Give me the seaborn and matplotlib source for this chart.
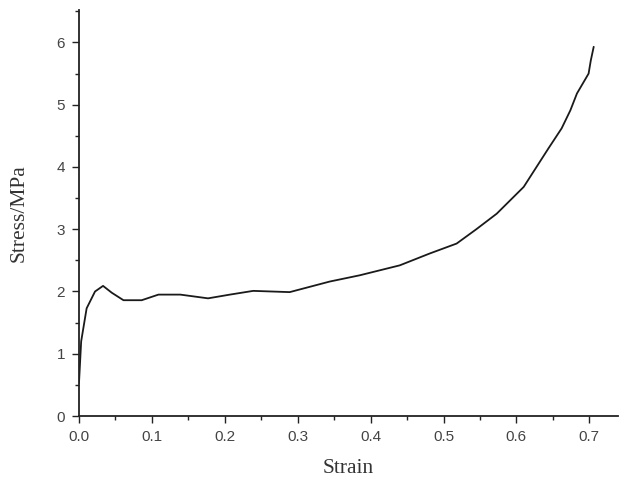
import matplotlib
matplotlib.use("Agg")
import matplotlib.pyplot as plt
from matplotlib.ticker import MultipleLocator
import seaborn as sns
import pandas as pd

strain = [0.0, 0.003, 0.0105, 0.022, 0.033, 0.045, 0.061, 0.086, 0.109, 0.139,
          0.177, 0.207, 0.239, 0.289, 0.344, 0.385, 0.44, 0.481, 0.518, 0.545,
          0.573, 0.61, 0.644, 0.662, 0.674, 0.683, 0.699, 0.702, 0.706]
stress = [0.53, 1.2, 1.73, 2.0, 2.09, 1.98, 1.86, 1.86, 1.95, 1.95,
          1.89, 1.95, 2.01, 1.99, 2.16, 2.26, 2.42, 2.61, 2.77, 3.0,
          3.25, 3.68, 4.3, 4.62, 4.91, 5.18, 5.5, 5.71, 5.93]

df = pd.DataFrame({"Strain": strain, "Stress": stress})

sns.set_style("ticks")
fig = plt.figure(figsize=(6.19, 4.8), dpi=100)
ax = fig.add_axes([0.1276, 0.1333, 0.8704, 0.8457])

sns.lineplot(data=df, x="Strain", y="Stress", ax=ax, color="#1a1a1a",
             linewidth=1.3, sort=False)

ax.set_xlim(0, 0.739)
ax.set_ylim(0, 6.52)
ax.xaxis.set_major_locator(MultipleLocator(0.1))
ax.xaxis.set_minor_locator(MultipleLocator(0.05))
ax.yaxis.set_major_locator(MultipleLocator(1))
ax.yaxis.set_minor_locator(MultipleLocator(0.5))
ax.set_xticks([0, 0.1, 0.2, 0.3, 0.4, 0.5, 0.6, 0.7])
ax.set_xticklabels(["0.0", "0.1", "0.2", "0.3", "0.4", "0.5", "0.6", "0.7"])

ax.tick_params(which="major", direction="out", length=5, width=1, pad=5,
               labelsize=11, labelcolor="#444444", color="#222222")
ax.tick_params(which="minor", direction="out", length=3, width=1, color="#222222")
for lab in ax.get_xticklabels() + ax.get_yticklabels():
    lab.set_family("Liberation Sans")

sns.despine(ax=ax)
for s in ["left", "bottom"]:
    ax.spines[s].set_linewidth(1.3)
    ax.spines[s].set_color("#222222")

ax.set_xlabel("Strain", fontsize=15.5, family="Liberation Serif", color="#333333", labelpad=11)
ax.set_ylabel("Stress/MPa", fontsize=15.5, family="Liberation Serif", color="#333333", labelpad=20)

fig.savefig("out.png", dpi=100)
